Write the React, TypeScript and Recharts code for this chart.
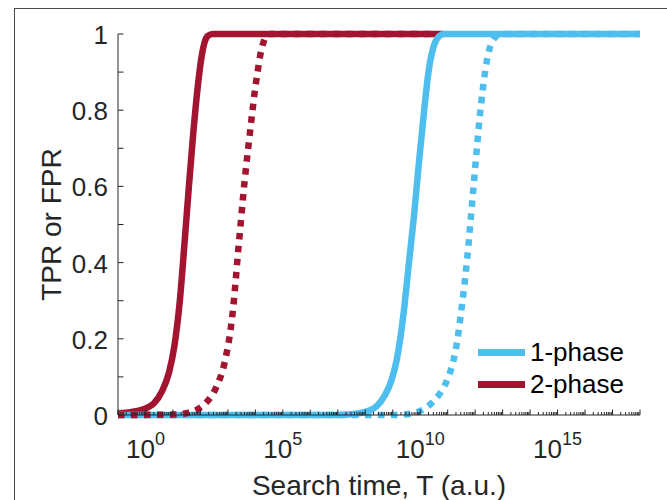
import React from "react";
import { LineChart, Line, XAxis, YAxis, Label } from "recharts";

// log10(T) positions and TPR/FPR values
const redSolidX = [-1, -0.5, 0, 0.3, 0.6, 0.85, 1.05, 1.25, 1.42, 1.58, 1.74, 1.9, 2.02, 2.14, 2.27, 2.45, 10.85];
const redSolidY = [0.004, 0.008, 0.017, 0.03, 0.062, 0.11, 0.18, 0.3, 0.45, 0.6, 0.74, 0.86, 0.93, 0.975, 0.995, 1, 1];

const redDotX = [-1, 1.0, 1.5, 1.9, 2.2, 2.45, 2.65, 2.82, 2.96, 3.09, 3.19, 3.28, 3.36, 3.45, 3.55, 3.66, 3.77, 3.88, 3.98, 4.08, 4.18, 4.28, 4.4, 4.55, 10.6];
const redDotY = [0, 0.001, 0.005, 0.015, 0.032, 0.055, 0.085, 0.12, 0.165, 0.22, 0.28, 0.35, 0.42, 0.49, 0.57, 0.65, 0.72, 0.79, 0.85, 0.9, 0.945, 0.975, 0.995, 1, 1];

const blueSolidX = [-1, 7.0, 7.5, 8.0, 8.4, 8.7, 8.95, 9.16, 9.4, 9.59, 9.77, 9.95, 10.13, 10.31, 10.5, 10.7, 10.86, 18];
const blueSolidY = [0, 0, 0.002, 0.008, 0.022, 0.05, 0.09, 0.15, 0.27, 0.4, 0.52, 0.66, 0.79, 0.905, 0.97, 0.995, 1, 1];

const blueDotX = [-1, 9.2, 9.7, 10.07, 10.44, 10.75, 11.0, 11.2, 11.35, 11.47, 11.59, 11.71, 11.81, 11.9, 11.99, 12.08, 12.17, 12.27, 12.38, 12.5, 12.62, 12.78, 12.95, 18];
const blueDotY = [0, 0, 0.004, 0.013, 0.033, 0.06, 0.095, 0.14, 0.195, 0.26, 0.33, 0.41, 0.49, 0.565, 0.64, 0.715, 0.785, 0.85, 0.91, 0.955, 0.98, 0.995, 1, 1];

// axes
const xDecades = [-1, 0, 1, 2, 3, 4, 5, 6, 7, 8, 9, 10, 11, 12, 13, 14, 15, 16, 17, 18];
const xMinorMult = [2, 3, 4, 5, 6, 7, 8, 9];
const xLabelled = [0, 5, 10, 15];
const yTicks = [0, 0.1, 0.2, 0.3, 0.4, 0.5, 0.6, 0.7, 0.8, 0.9, 1];
const yLabelled = ["0", "0.2", "0.4", "0.6", "0.8", "1"];

const legendNames = ["1-phase", "2-phase"];

const BLUE = "#4DBEEE";
const RED = "#A2142F";
const INK = "#262626";
const FONT = "'Liberation Sans', Arial, sans-serif";

const PLOT_LEFT = 118;
const PLOT_BOTTOM = 415;

const toRows = (xs: number[], ys: number[]) => xs.map((x, i) => ({ x, y: ys[i] }));

const xTicks: number[] = [];
xDecades.forEach((d) => {
  xTicks.push(d);
  if (d < 18) xMinorMult.forEach((m) => xTicks.push(d + Math.log10(m)));
});

function XTick(props: any) {
  const { x, payload } = props;
  const v = payload.value;
  const major = Math.abs(v - Math.round(v)) < 1e-9;
  const len = major ? 5.5 : 3;
  const showLabel = major && xLabelled.includes(Math.round(v));
  return (
    <g>
      <line x1={x} x2={x} y1={PLOT_BOTTOM} y2={PLOT_BOTTOM - len} stroke={INK} strokeWidth={1} />
      {showLabel && (
        <text x={x} y={458} textAnchor="middle" fill={INK} fontSize={26} fontFamily={FONT}>
          10
          <tspan dy={-13} fontSize={18}>
            {Math.round(v)}
          </tspan>
        </text>
      )}
    </g>
  );
}

function YTick(props: any) {
  const { y, payload } = props;
  const v = payload.value;
  const txt = String(Math.round(v * 10) / 10);
  const show = yLabelled.includes(txt);
  return (
    <g>
      <line x1={PLOT_LEFT} x2={PLOT_LEFT + 5.5} y1={y} y2={y} stroke={INK} strokeWidth={1} />
      {show && (
        <text x={108} y={y + 10} textAnchor="end" fill={INK} fontSize={26} fontFamily={FONT}>
          {txt}
        </text>
      )}
    </g>
  );
}

export default function App() {
  return (
    <div
      style={{
        position: "absolute",
        left: 0,
        top: 0,
        width: 667,
        height: 500,
        overflow: "hidden",
        background: "#fff",
        fontFamily: FONT,
      }}
    >
      <div
        style={{
          position: "absolute",
          left: 14,
          top: 8,
          width: 700,
          height: 560,
          borderLeft: "1px solid #4a4a4a",
          borderTop: "1px solid #4a4a4a",
        }}
      />
      <div style={{ position: "absolute", left: 0, top: 0 }}>
        <LineChart width={667} height={500} margin={{ top: 34, right: 27, left: 18, bottom: 25 }}>
          <XAxis
            type="number"
            dataKey="x"
            domain={[-1, 18]}
            ticks={xTicks}
            interval={0}
            allowDataOverflow
            height={60}
            tickLine={false}
            tickSize={0}
            tickMargin={0}
            stroke={INK}
            tick={<XTick />}
          >
            <Label
              content={(p: any) => {
                const vb = p.viewBox || { x: 118, width: 522 };
                return (
                  <text x={vb.x + vb.width / 2} y={495} textAnchor="middle" fill={INK} fontSize={28} fontFamily={FONT}>
                    Search time, T (a.u.)
                  </text>
                );
              }}
            />
          </XAxis>
          <YAxis
            type="number"
            domain={[0, 1]}
            ticks={yTicks}
            interval={0}
            width={100}
            tickLine={false}
            tickSize={0}
            tickMargin={0}
            stroke={INK}
            tick={<YTick />}
          >
            <Label
              content={(p: any) => {
                const vb = p.viewBox || { y: 34, height: 381 };
                const cy = vb.y + vb.height / 2;
                return (
                  <text
                    x={61}
                    y={cy}
                    transform={`rotate(-90, 61, ${cy})`}
                    textAnchor="middle"
                    fill={INK}
                    fontSize={28}
                    fontFamily={FONT}
                  >
                    TPR or FPR
                  </text>
                );
              }}
            />
          </YAxis>
          <Line
            data={toRows(redSolidX, redSolidY)}
            dataKey="y"
            type="monotone"
            stroke={RED}
            strokeWidth={6.5}
            dot={false}
            isAnimationActive={false}
          />
          <Line
            data={toRows(blueSolidX, blueSolidY)}
            dataKey="y"
            type="monotone"
            stroke={BLUE}
            strokeWidth={6.5}
            dot={false}
            isAnimationActive={false}
          />
          <Line
            data={toRows(blueDotX, blueDotY)}
            dataKey="y"
            type="monotone"
            stroke={BLUE}
            strokeWidth={6.5}
            strokeDasharray="6.5 6.5"
            strokeLinecap="butt"
            dot={false}
            isAnimationActive={false}
          />
          <Line
            data={toRows(redDotX, redDotY)}
            dataKey="y"
            type="monotone"
            stroke={RED}
            strokeWidth={6.5}
            strokeDasharray="6.5 6.5"
            strokeLinecap="butt"
            dot={false}
            isAnimationActive={false}
          />
        </LineChart>
      </div>
      <div style={{ position: "absolute", left: 478, top: 336 }}>
        {legendNames.map((name, i) => (
          <div key={name} style={{ display: "flex", alignItems: "center", height: 32 }}>
            <div style={{ width: 47, height: 7, background: i === 0 ? BLUE : RED, marginRight: 5 }} />
            <span style={{ fontSize: 26, lineHeight: "32px", color: "#000" }}>{name}</span>
          </div>
        ))}
      </div>
    </div>
  );
}
